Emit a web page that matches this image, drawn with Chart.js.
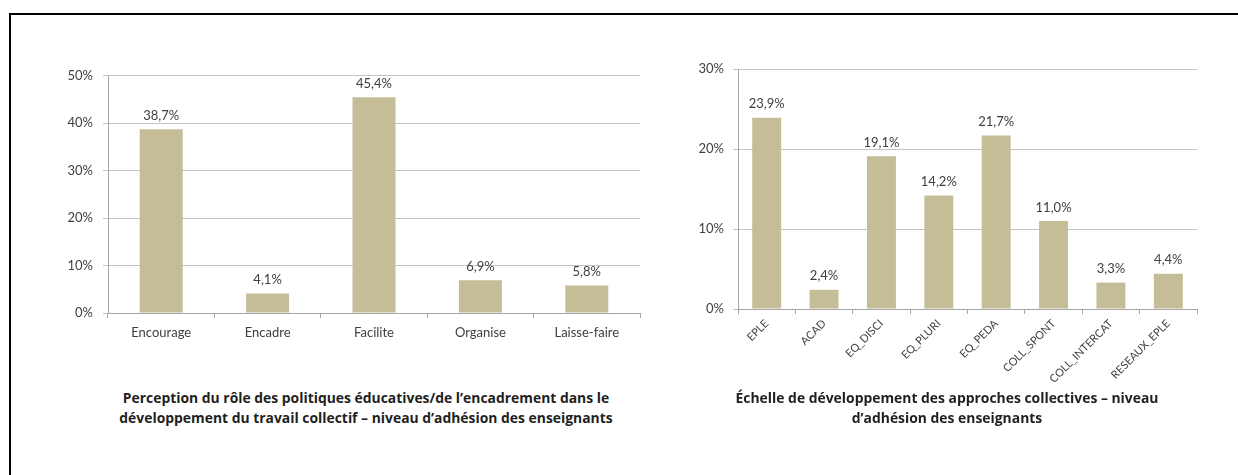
<!DOCTYPE html>
<html>
<head>
<meta charset="utf-8">
<script src="https://cdn.jsdelivr.net/npm/chart.js@4"></script>
<style>
  html, body { margin: 0; padding: 0; background: #fff; }
  body { width: 1238px; height: 475px; position: relative; overflow: hidden; font-family: Lato, sans-serif; }
  .frame { position: absolute; left: 9px; top: 13px; width: 1300px; height: 500px; border-top: 2px solid #000; border-left: 2px solid #000; }
  .box { position: absolute; }
  .title { position: absolute; font-family: "Open Sans", sans-serif; font-weight: bold; font-size: 13.9px; color: #1f1f1f; text-align: center; line-height: 20px; white-space: nowrap; }
</style>
</head>
<body>
<div class="frame"></div>
<div class="box" style="left:30px; top:50px; width:620px; height:320px;"><canvas id="roleChart"></canvas></div>
<div class="box" style="left:660px; top:40px; width:570px; height:360px;"><canvas id="echelleChart"></canvas></div>
<div class="title" style="left:116px; width:500px; top:388px;">Perception du rôle des politiques éducatives/de l’encadrement dans le<br>développement du travail collectif – niveau d’adhésion des enseignants</div>
<div class="title" style="left:697px; width:500px; top:388px;">Échelle de développement des approches collectives – niveau<br>d’adhésion des enseignants</div>
<script>
// chart data
const roleLabels = ['Encourage', 'Encadre', 'Facilite', 'Organise', 'Laisse-faire'];
const roleValues = [38.7, 4.1, 45.4, 6.9, 5.8];
const roleTicks = [0, 10, 20, 30, 40, 50];

const echelleLabels = ['EPLE', 'ACAD', 'EQ_DISCI', 'EQ_PLURI', 'EQ_PEDA', 'COLL_SPONT', 'COLL_INTERCAT', 'RESEAUX_EPLE'];
const echelleValues = [23.9, 2.4, 19.1, 14.2, 21.7, 11.0, 3.3, 4.4];
const echelleTicks = [0, 10, 20, 30];

Chart.defaults.font.family = "Lato, sans-serif";
Chart.defaults.color = '#404040';

const barColor = '#c4bd97';
const gridColor = '#c4c4c4';
const axisColor = '#a6a6a6';

function pct(v) {
  return v.toFixed(1).replace('.', ',') + '%';
}

// values above each bar
const valueLabels = {
  id: 'valueLabels',
  afterDatasetsDraw(chart) {
    const ctx = chart.ctx;
    const meta = chart.getDatasetMeta(0);
    const values = chart.data.datasets[0].data;
    ctx.save();
    ctx.font = '13px Lato, sans-serif';
    ctx.fillStyle = '#404040';
    ctx.textAlign = 'center';
    ctx.textBaseline = 'bottom';
    meta.data.forEach((bar, i) => {
      ctx.fillText(pct(values[i]), bar.x, bar.y - 7);
    });
    ctx.restore();
  },
};

function makeChart(id, labels, values, ticks, opts) {
  const maxTick = ticks[ticks.length - 1];
  return new Chart(document.getElementById(id), {
    type: 'bar',
    data: {
      labels: labels,
      datasets: [
        {
          data: values,
          backgroundColor: barColor,
          borderWidth: 0,
          barPercentage: opts.barPct,
          categoryPercentage: 1,
        },
      ],
    },
    options: {
      responsive: true,
      maintainAspectRatio: false,
      animation: false,
      events: [],
      layout: { padding: opts.padding },
      plugins: {
        legend: { display: false },
        tooltip: { enabled: false },
      },
      scales: {
        x: {
          grid: { drawOnChartArea: false, drawTicks: true, tickLength: 5, color: axisColor },
          border: { color: axisColor },
          ticks: {
            autoSkip: false,
            minRotation: opts.rotation,
            maxRotation: opts.rotation,
            padding: opts.xPad,
            font: { size: opts.xFont },
            color: '#404040',
          },
          afterFit: (scale) => { scale.height = opts.xHeight; },
        },
        y: {
          min: 0,
          max: maxTick,
          grid: { color: gridColor, tickLength: 5 },
          border: { color: axisColor },
          ticks: {
            stepSize: ticks[1] - ticks[0],
            padding: opts.yPad,
            font: { size: 13 },
            color: '#404040',
            callback: (v) => v + '%',
          },
          afterFit: (scale) => { scale.width = 78; },
        },
      },
    },
    plugins: [valueLabels],
  });
}

makeChart('roleChart', roleLabels, roleValues, roleTicks, {
  barPct: 0.404,
  padding: { left: 0, right: 10, top: 25.5, bottom: 17 },
  rotation: 0,
  xPad: 7,
  xFont: 13,
  xHeight: 40,
  yPad: 10,
});

makeChart('echelleChart', echelleLabels, echelleValues, echelleTicks, {
  barPct: 0.505,
  padding: { left: 0, right: 33, top: 29, bottom: 11 },
  rotation: 45,
  xPad: 3,
  xFont: 11,
  xHeight: 80,
  yPad: 9,
});
</script>
</body>
</html>
